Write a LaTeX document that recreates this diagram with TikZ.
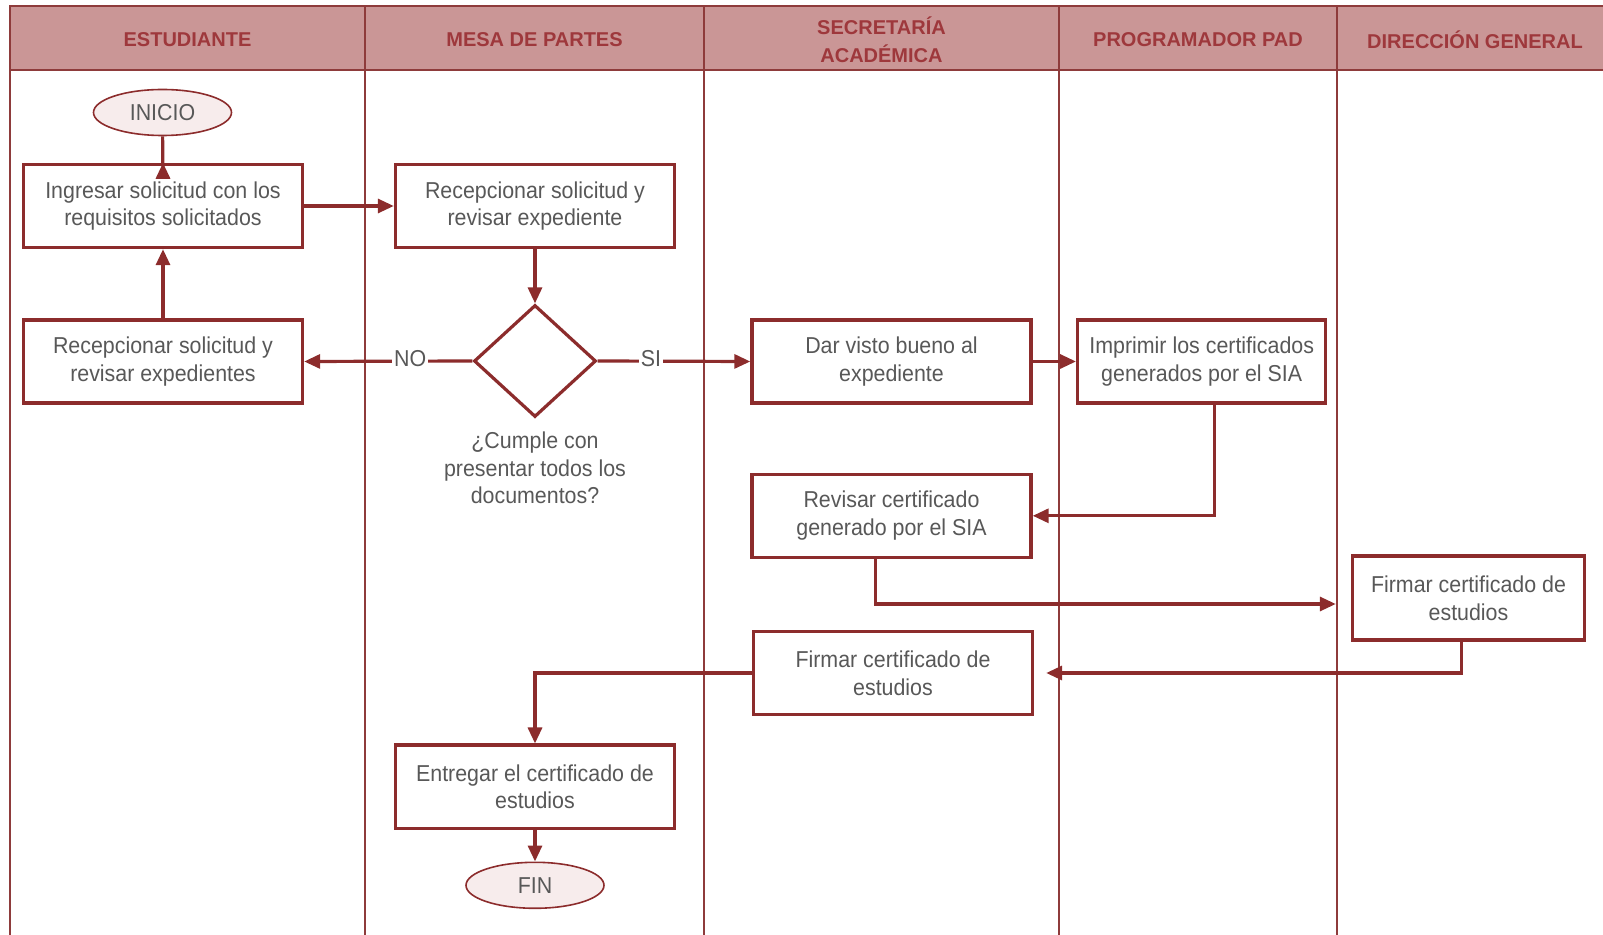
\documentclass[tikz,border=0pt]{standalone}
\usepackage{fontspec}
\setmainfont{Liberation Sans}[FakeStretch=0.93]
\newfontfamily\cabecera{Liberation Sans}
\definecolor{RojoLinea}{HTML}{8C2C2C}
\definecolor{RojoCarril}{HTML}{8E3B3B}
\definecolor{RosaCabecera}{HTML}{CA9696}
\definecolor{RojoTitulo}{HTML}{9E383C}
\definecolor{GrisTexto}{HTML}{585858}
\definecolor{RosaTerminal}{HTML}{F7ECEC}
\usetikzlibrary{shapes.geometric,arrows.meta,positioning,calc}
\tikzset{
	proceso/.style={draw=RojoLinea, line width=1.7pt, fill=white, align=center,
		minimum width=139.5pt, minimum height=41.5pt, inner sep=2pt,
		text=GrisTexto, font=\fontsize{11.5}{13.8}\selectfont},
	decision/.style={diamond, draw=RojoLinea, line width=1.6pt, fill=white,
		minimum width=61pt, minimum height=56pt, inner sep=0pt},
	terminal/.style={ellipse, draw=RojoLinea, line width=0.8pt, fill=RosaTerminal,
		minimum width=69pt, minimum height=23pt, inner sep=0pt,
		text=GrisTexto, font=\fontsize{11.5}{13.8}\selectfont},
	carril/.style={align=center, text=RojoTitulo,
		font=\cabecera\bfseries\fontsize{10}{13.8}\selectfont},
	etiqueta/.style={fill=white, inner sep=1pt, align=center, text=GrisTexto,
		font=\fontsize{11.5}{13.8}\selectfont},
	flecha/.style={draw=RojoLinea, line width=1.6pt,
		arrows={-Stealth[length=8pt, width=7pt, inset=0]}}
}
\begin{document}
\begin{tikzpicture}[x=0.5pt,y=-0.5pt]
    \useasboundingbox (0,0) rectangle (1603,935);
    % Carriles y cabecera
    \draw[fill=RosaCabecera, draw=RojoCarril, line width=1pt] (10,6) rectangle (1620,70);
    \foreach \x in {10,365,704,1059,1337} {
        \draw[RojoCarril, line width=0.7pt] (\x,6) -- (\x,935);
    }
    \node[carril] (cEst) at (187.5,39.5) {ESTUDIANTE};
    \node[carril] (cMesa) at (534.5,39.5) {MESA DE PARTES};
    \node[carril] (cSec) at (881.5,39.5) {SECRETAR\'IA\\ACAD\'EMICA};
    \node[carril] (cProg) at (1198,39.5) {PROGRAMADOR PAD};
    \node[carril] (cDir) at (1475,39.5) {DIRECCI\'ON GENERAL};

    % Actividades
    \node[terminal] (inicio) at (162.5,112.5) {INICIO};
    \node[proceso] (ing) at (163,206) {Ingresar solicitud con los\\requisitos solicitados};
    \node[proceso] (rec) at (535,206) {Recepcionar solicitud y\\revisar expediente};
    \node[decision] (dec) at (535,361) {};
    \node[etiqueta, fill=none] (pregunta) at (535,468) {¿Cumple con\\presentar todos los\\documentos?};
    \node[proceso] (recs) at (163,361.5) {Recepcionar solicitud y\\revisar expedientes};
    \node[proceso] (visto) at (891.5,361.5) {Dar visto bueno al\\expediente};
    \node[proceso, minimum width=124pt] (impr) at (1201.7,361.5) {Imprimir los certificados\\generados por el SIA};
    \node[proceso] (revis) at (891.5,515.8) {Revisar certificado\\generado por el SIA};
    \node[proceso, minimum width=116pt, minimum height=42pt] (firmaD) at (1468.5,598) {Firmar certificado de\\estudios};
    \node[proceso] (firmaS) at (893,673) {Firmar certificado de\\estudios};
    \node[proceso] (entr) at (535,786.7) {Entregar el certificado de\\estudios};
    \node[terminal] (fin) at (535,885.3) {FIN};

    \coordinate (llegaD) at ($(firmaD.west)+(-15,6)$);
    \coordinate (llegaS) at ($(firmaS.east)+(12,0)$);

    % Conectores
    \draw[draw=RojoLinea, line width=1.6pt] (inicio) -- (ing);
    \draw[flecha] ([yshift=-8pt]ing.north) -- (ing.north);
    \draw[flecha] (recs) -- (ing);
    \draw[flecha] (ing) -- (rec);
    \draw[flecha] (rec) -- (dec);
    \draw[flecha] (dec.west) -- (recs.east) node[etiqueta, pos=0.37, yshift=1.5pt] {NO};
    \draw[flecha] (dec.east) -- (visto.west) node[etiqueta, pos=0.35, yshift=1.5pt] {SI};
    \draw[flecha] (visto) -- (impr);
    \draw[flecha] ($(impr.south)+(13,0)$) |- (revis.east);
    \draw[flecha] ($(revis.south)+(-16,0)$) |- (llegaD);
    \draw[flecha] ($(firmaD.south)+(-7,0)$) |- (llegaS);
    \draw[flecha] (firmaS.west) -| (entr.north);
    \draw[flecha] (entr) -- (fin);
\end{tikzpicture}
\end{document}
